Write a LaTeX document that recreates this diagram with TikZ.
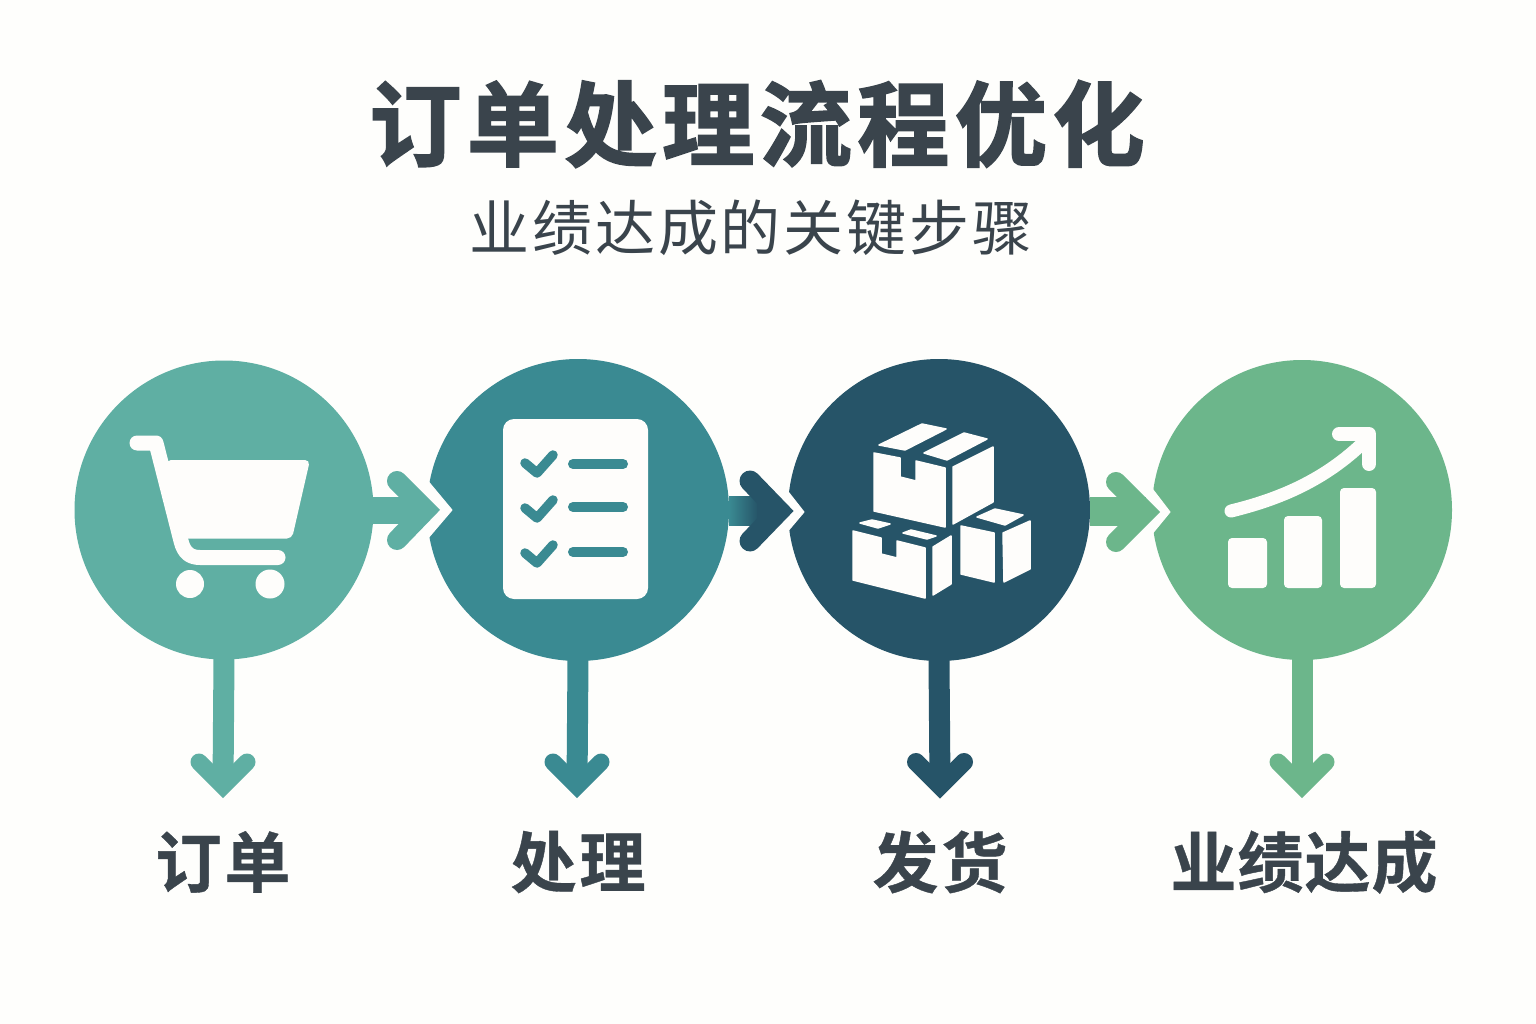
\documentclass[tikz,border=0pt]{standalone}
\usepackage{fontspec}
\newfontfamily\cjkbold[BoldFont=* Bold]{Noto Sans CJK SC}
\newfontfamily\cjkheavy[BoldFont=* Bold,BoldFeatures={FakeBold=2}]{Noto Sans CJK SC}
\newfontfamily\cjkmid[BoldFont=* Bold,BoldFeatures={FakeBold=0.6}]{Noto Sans CJK SC}
\newfontfamily\cjkreg{Noto Sans CJK SC}
\newcommand{\fsz}[1]{\fontsize{#1}{#1}\selectfont}
\definecolor{bgc}{HTML}{FEFEFC}
\definecolor{txtc}{HTML}{3A444C}
\definecolor{ca}{HTML}{5FAFA3}
\definecolor{cb}{HTML}{3A8A92}
\definecolor{cc}{HTML}{265468}
\definecolor{cd}{HTML}{6CB68B}
\definecolor{iconw}{HTML}{FEFDFB}
\tikzset{
  stepcircle/.style={circle,minimum size=#1,inner sep=0pt,outer sep=0pt},
  notch/.style={fill=bgc,draw=bgc,line width=1pt,line join=round},
  chev/.style={line width=#1,line cap=round,line join=miter,miter limit=10},
  labeltext/.style={text=txtc,font=\cjkmid\bfseries\fsz{66},inner sep=0pt},
  iconshape/.style={fill=iconw,draw=none},
  iconline/.style={draw=iconw,line cap=round,line join=round},
  boxpart/.style={fill=iconw,draw=iconw,line width=1.5pt,line join=round},
  tick/.style={line width=9.5pt,line cap=round,line join=round,draw=cb},
  rowline/.style={line width=10pt,line cap=round,draw=cb},
}
\begin{document}
\begin{tikzpicture}[x=1pt,y=-1pt]
\useasboundingbox (0,0) rectangle (1536,1024);
\fill[bgc] (0,0) rectangle (1536,1024);

% title
\node[text=txtc,inner sep=0pt,font=\cjkheavy\bfseries\fsz{92}] (title) at (757,124)
  {订\kern5.6pt 单\kern5.6pt 处\kern5.6pt 理\kern5.6pt 流\kern5.6pt 程\kern5.6pt 优\kern5.6pt 化};
\node[text=txtc,inner sep=0pt,font=\cjkreg\fsz{60}] (subtitle) at (751,228)
  {业\kern2.8pt 绩\kern2.8pt 达\kern2.8pt 成\kern2.8pt 的\kern2.8pt 关\kern2.8pt 键\kern2.8pt 步\kern2.8pt 骤};

% circles
\node[stepcircle=299pt,fill=ca] (c1) at (224,510) {};
\node[stepcircle=302pt,fill=cb] (c2) at (578,510) {};
\node[stepcircle=302pt,fill=cc] (c3) at (939,510) {};
\node[stepcircle=300pt,fill=cd] (c4) at (1302,510) {};

% notches
\fill[notch] (422,474) -- (452,510) -- (423,544) -- cycle;
\fill[notch] (782,484) -- (804,512) -- (782,538) -- cycle;
\fill[notch] (1147,482) -- (1170,512) -- (1147,540) -- cycle;

% horizontal connectors
\coordinate (a1) at (426,510);
\coordinate (a2) at (779,511);
\coordinate (a3) at (1146,512);
\fill[ca] (c1.east) ++(-2,-13.5) rectangle (a1|-0,524);
\draw[chev=20pt,ca] (397,481) -- (a1) -- (397,540);
\fill[left color=cb,right color=cc] (c2.east) ++(0,-13.5) rectangle (758,525);
\fill[cc] (757,497) rectangle (a2|-0,525);
\draw[chev=21pt,cc] (750,481) -- (a2) -- (750,541);
\fill[cd] (c3.east) ++(0,-13.5) rectangle (a3|-0,526);
\draw[chev=20pt,cd] (1116,482) -- (a3) -- (1116,542);

% down connectors
\coordinate (d1) at (223,786);
\coordinate (d2) at (577,786);
\coordinate (d3) at (940,786);
\coordinate (d4) at (1302,786);
\draw[line width=21pt,ca] (c1.south) ++(0,-2) -- (d1);
\draw[line width=21pt,cb] (c2.south) ++(0,-2) -- (d2);
\draw[line width=21pt,cc] (c3.south) ++(0,-2) -- (d3);
\draw[line width=21pt,cd] (c4.south) ++(0,-2) -- (d4);
\draw[chev=17pt,ca] (199,762) -- (d1) -- (247,762);
\draw[chev=17pt,cb] (553,762) -- (d2) -- (601,762);
\draw[chev=18pt,cc] (916,762) -- (d3) -- (964,762);
\draw[chev=17pt,cd] (1278,762) -- (d4) -- (1326,762);

% labels
\node[labeltext] (l1) at (223,862) {订\kern3pt 单};
\node[labeltext] (l2) at (578,862) {处\kern3pt 理};
\node[labeltext] (l3) at (940,862) {发\kern3pt 货};
\node[labeltext] (l4) at (1304,862) {业\kern1pt 绩\kern1pt 达\kern1pt 成};

% cart icon
\draw[iconline,line width=15pt] (137,443) -- (156,443) -- (181,541) .. controls (184,553) and (190,557.5) .. (200,557.5) -- (278,557.5);
\fill[iconshape,rounded corners=5pt] (166,460) -- (310,460) -- (292,538.5) -- (182,538.5) -- cycle;
\fill[iconshape] (190,584) circle (14pt);
\fill[iconshape] (270,584) circle (14.5pt);

% checklist icon
\fill[iconshape,rounded corners=11pt] (503,419) rectangle (648,599);
\foreach \yy/\rr in {0/464,45/507,90/552}{
  \draw[tick] (525,\yy+463) -- (537,\yy+473) -- (553,\yy+455);
  \draw[rowline] (573,\rr) -- (623,\rr);
}

% boxes icon
\begin{scope}[every path/.style={boxpart}]
\path (879,445) -- (922,424) -- (946,429) -- (905,450) -- cycle;
\path (924,453) -- (964,433) -- (987,439) -- (947,460) -- cycle;
\path (874,453) -- (900,458) -- (900,477) -- (916,481) -- (916,461) -- (945,468) -- (945,527) -- (874,511) -- cycle;
\path (953,467) -- (993,447) -- (993,502) -- (953,524) -- cycle;
\path (860,523) -- (872,520) -- (890,524) -- (878,528) -- cycle;
\path (903,533) -- (911,530) -- (936,536) -- (927,539) -- cycle;
\path (853,531) -- (881,538) -- (881,554) -- (897,558) -- (897,541) -- (925,548) -- (925,598) -- (853,580) -- cycle;
\path (933,547) -- (951,536) -- (951,584) -- (933,595) -- cycle;
\path (977,517) -- (995,509) -- (1023,515) -- (1005,525) -- cycle;
\path (961,526) -- (994,533) -- (994,582) -- (961,574) -- cycle;
\path (1003,533) -- (1030,521) -- (1030,569) -- (1004,582) -- cycle;
\end{scope}

% chart icon
\fill[iconshape,rounded corners=4pt] (1228,538) rectangle (1267,588);
\fill[iconshape,rounded corners=4pt] (1284,516) rectangle (1322,588);
\fill[iconshape,rounded corners=4pt] (1340,488) rectangle (1376,588);
\draw[iconline,line width=13pt] (1231,511) .. controls (1280,499) and (1325,480) .. (1365,441);
\draw[iconline,line width=14pt] (1339,434) -- (1369,434) -- (1369,464);
\end{tikzpicture}
\end{document}
